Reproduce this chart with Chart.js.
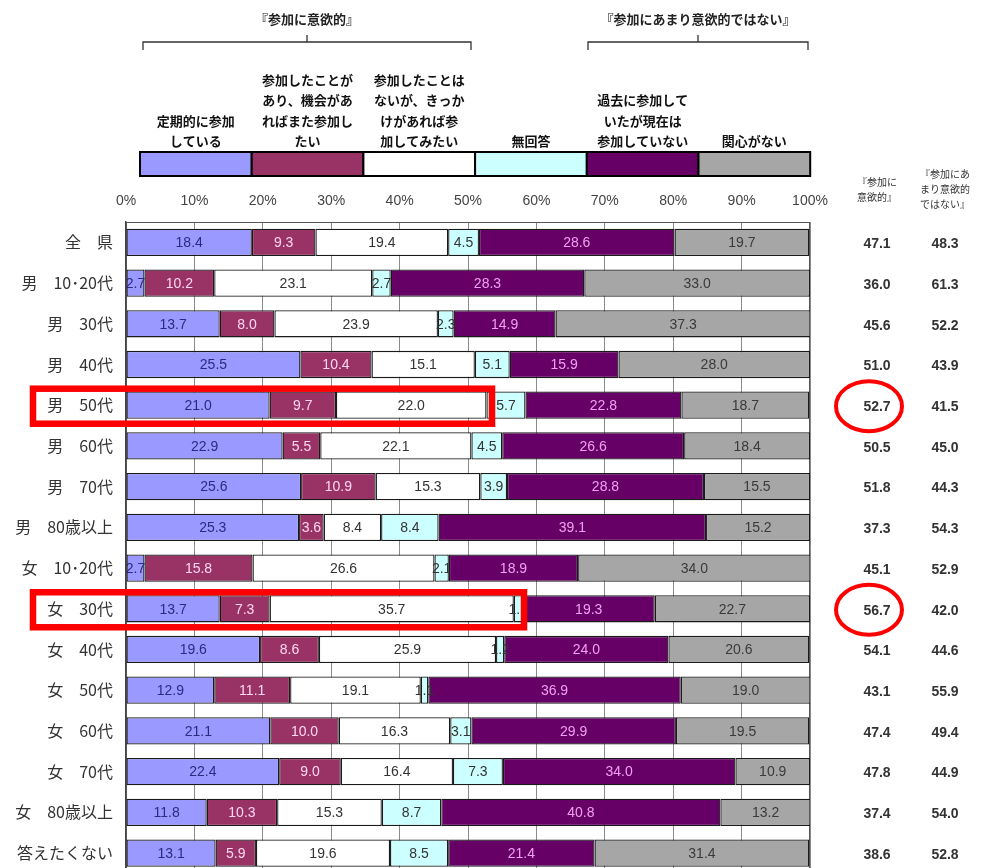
<!DOCTYPE html>
<html lang="ja">
<head>
<meta charset="utf-8">
<title>地域活動への参加意向</title>
<script src="https://cdn.jsdelivr.net/npm/chart.js@4.4.1/dist/chart.umd.min.js"></script>
<style>
  html, body { margin: 0; padding: 0; background: #ffffff; overflow: hidden; }
  #wrap { width: 988px; height: 868px; overflow: hidden; }
</style>
</head>
<body>
<div id="wrap"><canvas id="c" width="988" height="896"></canvas></div>
<script>
// 回答者区分
const categories = ['全　県', '男　10･20代', '男　30代', '男　40代', '男　50代', '男　60代', '男　70代', '男　80歳以上',
  '女　10･20代', '女　30代', '女　40代', '女　50代', '女　60代', '女　70代', '女　80歳以上', '答えたくない'];

// 回答の内訳（%）
const regular    = [18.4, 2.7, 13.7, 25.5, 21.0, 22.9, 25.6, 25.3, 2.7, 13.7, 19.6, 12.9, 21.1, 22.4, 11.8, 13.1];
const again      = [9.3, 10.2, 8.0, 10.4, 9.7, 5.5, 10.9, 3.6, 15.8, 7.3, 8.6, 11.1, 10.0, 9.0, 10.3, 5.9];
const tryIt      = [19.4, 23.1, 23.9, 15.1, 22.0, 22.1, 15.3, 8.4, 26.6, 35.7, 25.9, 19.1, 16.3, 16.4, 15.3, 19.6];
const noAnswer   = [4.5, 2.7, 2.3, 5.1, 5.7, 4.5, 3.9, 8.4, 2.1, 1.3, 1.2, 1.1, 3.1, 7.3, 8.7, 8.5];
const past       = [28.6, 28.3, 14.9, 15.9, 22.8, 26.6, 28.8, 39.1, 18.9, 19.3, 24.0, 36.9, 29.9, 34.0, 40.8, 21.4];
const noInterest = [19.7, 33.0, 37.3, 28.0, 18.7, 18.4, 15.5, 15.2, 34.0, 22.7, 20.6, 19.0, 19.5, 10.9, 13.2, 31.4];

// 右側の集計列（%）
const positiveTotal = [47.1, 36.0, 45.6, 51.0, 52.7, 50.5, 51.8, 37.3, 45.1, 56.7, 54.1, 43.1, 47.4, 47.8, 37.4, 38.6];
const negativeTotal = [48.3, 61.3, 52.2, 43.9, 41.5, 45.0, 44.3, 54.3, 52.9, 42.0, 44.6, 55.9, 49.4, 44.9, 54.0, 52.8];

// 凡例の見出し（改行位置つき）
const legendLines = [
  ['定期的に参加', 'している'],
  ['参加したことが', 'あり、機会があ', 'ればまた参加し', 'たい'],
  ['参加したことは', 'ないが、きっか', 'けがあれば参', '加してみたい'],
  ['無回答'],
  ['過去に参加して', 'いたが現在は', '参加していない'],
  ['関心がない']
];
const xTicks = [0, 10, 20, 30, 40, 50, 60, 70, 80, 90, 100];
const groupPositive = '『参加に意欲的』';
const groupNegative = '『参加にあまり意欲的ではない』';
const colPositiveHead = ['『参加に', '意欲的』'];
const colNegativeHead = ['『参加にあ', 'まり意欲的', 'ではない』'];
// 強調する区分
const highlighted = ['男　50代', '女　30代'];

const fills  = ['#9999ff', '#993366', '#ffffff', '#ccffff', '#660066', '#a6a6a6'];
const inks   = ['#2b2b80', '#ffd6f0', '#333333', '#333333', '#f0a0f0', '#3a3a3a'];
const series = [regular, again, tryIt, noAnswer, past, noInterest];

const JP = '"Noto Sans CJK JP", "Noto Sans", sans-serif';
const NUM = '"Liberation Sans", Arial, sans-serif';

const datasets = series.map((vals, i) => ({
  label: legendLines[i].join(''),
  data: vals,
  backgroundColor: fills[i],
  borderColor: '#1a1a1a',
  borderWidth: 1.3,
  borderSkipped: false,
  barPercentage: 0.67,
  categoryPercentage: 1.0,
  inkColor: inks[i]
}));

// 各区分の値ラベル
const segmentLabels = {
  id: 'segmentLabels',
  afterDatasetsDraw(chart) {
    const ctx = chart.ctx;
    ctx.save();
    ctx.font = '14px ' + NUM;
    ctx.textAlign = 'center';
    ctx.textBaseline = 'middle';
    chart.data.datasets.forEach((ds, di) => {
      const meta = chart.getDatasetMeta(di);
      meta.data.forEach((bar, i) => {
        const cx = (bar.x + bar.base) / 2;
        ctx.fillStyle = ds.inkColor;
        ctx.fillText(ds.data[i].toFixed(1), cx, bar.y + 1);
      });
    });
    ctx.restore();
  }
};

// 枠線・凡例・見出し・集計列・強調表示
const decorations = {
  id: 'decorations',
  beforeDatasetsDraw(chart) {
    const { ctx, chartArea: a } = chart;
    ctx.save();
    ctx.strokeStyle = '#555555';
    ctx.lineWidth = 1;
    ctx.strokeRect(a.left + 0.5, a.top + 0.5, a.right - a.left - 1, a.bottom - a.top);
    ctx.restore();
  },
  afterDraw(chart) {
    const { ctx } = chart;
    const ys = chart.scales.y;
    ctx.save();

    // 凡例
    const legTop = 152, legH = 24, legLeft = 140, legW = 111.7;
    ctx.font = 'bold 13px ' + JP;
    ctx.textAlign = 'center';
    ctx.textBaseline = 'alphabetic';
    chart.data.datasets.forEach((ds, i) => {
      const x0 = legLeft + i * legW;
      ctx.fillStyle = ds.backgroundColor;
      ctx.fillRect(x0, legTop, legW, legH);
      ctx.strokeStyle = '#000000';
      ctx.lineWidth = 2;
      ctx.strokeRect(x0, legTop, legW, legH);
      const lines = legendLines[i];
      ctx.fillStyle = '#111111';
      lines.forEach((t, k) => {
        ctx.fillText(t, x0 + legW / 2, 146 - (lines.length - 1 - k) * 20.5);
      });
    });

    // 括弧と見出し
    const bracket = (x1, x2, label) => {
      const y = 42, mid = (x1 + x2) / 2;
      ctx.strokeStyle = '#333333';
      ctx.lineWidth = 1.3;
      ctx.beginPath();
      ctx.moveTo(x1, 50); ctx.lineTo(x1, y); ctx.lineTo(x2, y); ctx.lineTo(x2, 50);
      ctx.moveTo(mid, y); ctx.lineTo(mid, 35);
      ctx.stroke();
      ctx.fillStyle = '#222222';
      ctx.font = 'bold 13px ' + JP;
      ctx.textAlign = 'center';
      ctx.fillText(label, mid, 24);
    };
    bracket(143, 471, groupPositive);
    bracket(588, 808, groupNegative);

    // 集計列
    const colA = 877, colB = 945;
    ctx.font = '10px ' + JP;
    ctx.fillStyle = '#333333';
    ctx.textAlign = 'center';
    colPositiveHead.forEach((t, k) => ctx.fillText(t, colA, 186 + k * 15));
    colNegativeHead.forEach((t, k) => ctx.fillText(t, colB, 178 + k * 15));
    ctx.font = 'bold 14px ' + NUM;
    ctx.textBaseline = 'middle';
    categories.forEach((c, i) => {
      const y = ys.getPixelForValue(i) + 2;
      ctx.fillText(positiveTotal[i].toFixed(1), colA, y);
      ctx.fillText(negativeTotal[i].toFixed(1), colB, y);
    });

    // 強調枠
    ctx.strokeStyle = '#ff0000';
    const boxRight = [492, 524];
    highlighted.forEach((name, k) => {
      const i = categories.indexOf(name);
      const y = ys.getPixelForValue(i);
      ctx.lineWidth = 6.5;
      ctx.strokeRect(33, y - 16.5, boxRight[k] - 33, 35);
      ctx.lineWidth = 4;
      ctx.beginPath();
      ctx.ellipse(colA - 8, y + 1, 33, 25, 0, 0, Math.PI * 2);
      ctx.stroke();
    });
    ctx.restore();
  }
};

new Chart(document.getElementById('c'), {
  type: 'bar',
  data: { labels: categories, datasets },
  options: {
    indexAxis: 'y',
    responsive: false,
    animation: false,
    layout: { padding: { top: 185, right: 178, bottom: 0, left: 0 } },
    plugins: { legend: { display: false }, tooltip: { enabled: false } },
    scales: {
      x: {
        type: 'linear',
        position: 'top',
        stacked: true,
        min: 0,
        max: 100,
        afterBuildTicks(scale) { scale.ticks = xTicks.map(v => ({ value: v })); },
        afterFit(scale) { scale.height = 37; },
        ticks: {
          callback: v => v + '%',
          font: { family: NUM, size: 14 },
          color: '#444444',
          padding: 12
        },
        grid: { color: '#8a8a8a', lineWidth: 1, drawTicks: false },
        border: { display: false }
      },
      y: {
        type: 'category',
        stacked: true,
        offset: true,
        afterFit(scale) { scale.width = 126; },
        ticks: {
          font: { family: JP, size: 16 },
          color: '#333333',
          padding: 13
        },
        grid: { display: false, drawTicks: false },
        border: { display: true, color: '#444444', width: 1.5 }
      }
    }
  },
  plugins: [segmentLabels, decorations]
});
</script>
</body>
</html>
